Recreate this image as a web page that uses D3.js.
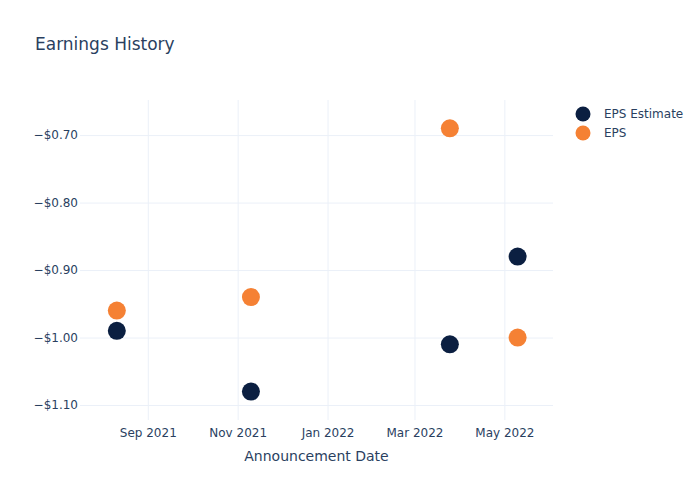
<!DOCTYPE html>
<html>
<head>
<meta charset="utf-8">
<script src="https://cdn.jsdelivr.net/npm/d3@7"></script>
<style>
  body { margin: 0; background: #fff; }
  svg { font-family: "DejaVu Sans", Verdana, sans-serif; }
</style>
</head>
<body>
<div class="chart"></div>
<script>
let dates = ['2021-08-11', '2021-11-10', '2022-03-25', '2022-05-10']
let epsEstimate = [-0.99, -1.08, -1.01, -0.88]
let eps = [-0.96, -0.94, -0.69, -1.00]
let yTicks = [-0.70, -0.80, -0.90, -1.00, -1.10]
let xTicks = ['2021-09-01', '2021-11-01', '2022-01-01', '2022-03-01', '2022-05-01']
let seriesNames = ['EPS Estimate', 'EPS']
let colors = ['#0b1f41', '#f58134']

let width = 700
let height = 500
let margin = {left: 80, right: 147, top: 100, bottom: 80}

let parse = d3.timeParse('%Y-%m-%d')

let xScale = d3.scaleTime()
    .domain([parse('2021-07-17'), parse('2022-06-03')])
    .range([margin.left, width - margin.right])

let yScale = d3.scaleLinear()
    .domain([-1.1222, -0.648])
    .range([height - margin.bottom, margin.top])

let svg = d3.select('.chart')
    .append('svg')
    .attr('width', width)
    .attr('height', height)

// grid
let xAxis = d3.axisBottom(xScale)
    .tickValues(xTicks.map(parse))
    .tickFormat(d3.timeFormat('%b %Y'))
    .tickSize(-(height - margin.top - margin.bottom))
    .tickPadding(8)

let yAxis = d3.axisLeft(yScale)
    .tickValues(yTicks)
    .tickFormat(d => '\u2212$' + Math.abs(d).toFixed(2))
    .tickSize(-(width - margin.left - margin.right))
    .tickPadding(2)

let gx = svg.append('g')
    .attr('transform', `translate(0, ${height - margin.bottom})`)
    .call(xAxis)
let gy = svg.append('g')
    .attr('transform', `translate(${margin.left}, 0)`)
    .call(yAxis)

for (let g of [gx, gy]) {
  g.select('.domain').remove()
  g.selectAll('line').attr('stroke', '#ebf0f8').attr('stroke-width', 1)
  g.selectAll('text').attr('fill', '#2a3f5f').attr('font-size', 12)
    .attr('font-family', '"DejaVu Sans", Verdana, sans-serif')
}

// points
let allSeries = [epsEstimate, eps]
allSeries.forEach((vals, s) => {
  svg.append('g')
    .selectAll('circle')
    .data(vals)
    .enter()
    .append('circle')
    .attr('cx', (d, i) => xScale(parse(dates[i])))
    .attr('cy', d => yScale(d))
    .attr('r', 9)
    .attr('fill', colors[s])
})

// title
svg.append('text')
    .attr('x', 35)
    .attr('y', 50)
    .attr('fill', '#2a3f5f')
    .attr('font-size', 17)
    .text('Earnings History')

svg.append('text')
    .attr('x', (margin.left + width - margin.right) / 2)
    .attr('y', 461)
    .attr('text-anchor', 'middle')
    .attr('fill', '#2a3f5f')
    .attr('font-size', 14)
    .text('Announcement Date')

// legend
seriesNames.forEach((name, i) => {
  svg.append('circle')
    .attr('cx', 583)
    .attr('cy', 114 + i * 19)
    .attr('r', 7.5)
    .attr('fill', colors[i])
  svg.append('text')
    .attr('x', 604)
    .attr('y', 118 + i * 19)
    .attr('fill', '#2a3f5f')
    .attr('font-size', 12)
    .text(name)
})
</script>
</body>
</html>
